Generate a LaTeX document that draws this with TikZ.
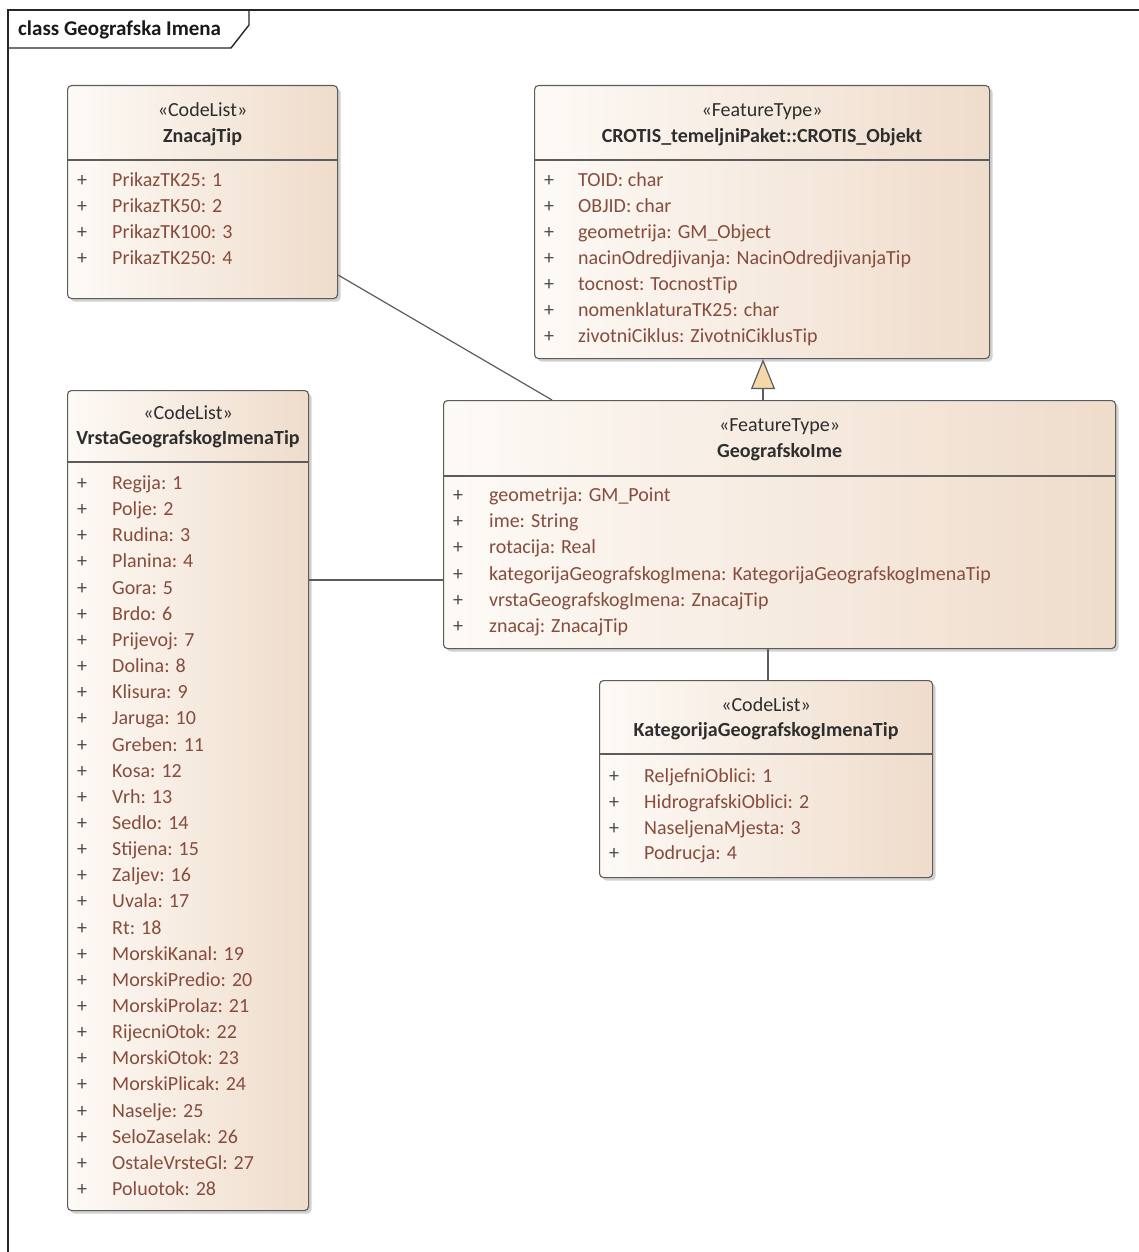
\documentclass[tikz,border=0pt]{standalone}
\usepackage{fontspec}
\setmainfont{Carlito}
\usetikzlibrary{shadows,arrows.meta,calc}
\definecolor{bord}{HTML}{5C5C5C}
\definecolor{boxL}{HTML}{FDFAF6}
\definecolor{boxR}{HTML}{EFDCCB}
\definecolor{attrc}{HTML}{874C3C}
\definecolor{txtc}{HTML}{2E2E2E}
\definecolor{trif}{HTML}{F6D8A8}
\begin{document}
\begin{tikzpicture}[x=1pt,y=-1pt,
  every node/.style={font=\fontsize{20}{24}\selectfont, inner sep=0pt, text height=13pt, text depth=0pt},
  cls/.style={draw=bord, line width=1.1pt, rounded corners=4pt, left color=boxL, right color=boxR,
    drop shadow={shadow xshift=3pt, shadow yshift=-3pt, fill=black!40, opacity=0.45},
    anchor=north west, text height=, text depth=},
  stereo/.style={text=txtc},
  cname/.style={text=txtc, font=\fontsize{20}{24}\selectfont\bfseries},
  sepl/.style={draw=bord, line width=1.1pt},
  plus/.style={text=txtc!85},
  attr/.style={text=attrc, anchor=west},
  conn/.style={draw=bord, line width=1.2pt},
  framel/.style={draw=black!85, line width=1.4pt}
]
\useasboundingbox (0,0) rectangle (1139,1252);
% frame
\draw[framel] (8,1260) -- (8,10) -- (1145,10);
\draw[framel] (8,48) -- (231,48) -- (249,25) -- (249,10);
\node[anchor=west, text=black!90, font=\fontsize{21}{25}\selectfont\bfseries] (title) at (18,29) {class Geografska Imena};

% ZnacajTip
\node[cls, minimum width=270pt, minimum height=213pt] (zn) at (67,85) {};
\node[stereo] (zn-st) at ([yshift=-25pt]zn.north) {«CodeList»};
\node[cname] (zn-nm) at ([yshift=-51pt]zn.north) {ZnacajTip};
\draw[sepl] ([yshift=-75pt]zn.north west) -- ([yshift=-75pt]zn.north east);
\foreach \t [count=\i from 0] in {PrikazTK25: 1, PrikazTK50: 2, PrikazTK100: 3, PrikazTK250: 4} {
  \node[plus] (zn-p\i) at ([xshift=15pt,yshift={-95pt-26pt*\i}]zn.north west) {+};
  \node[attr] (zn-a\i) at ([xshift=45pt,yshift={-95pt-26pt*\i}]zn.north west) {\t};
}

% CROTIS_Objekt
\node[cls, minimum width=455pt, minimum height=273pt] (cr) at (534,85) {};
\node[stereo] (cr-st) at ([yshift=-25pt]cr.north) {«FeatureType»};
\node[cname] (cr-nm) at ([yshift=-51pt]cr.north) {CROTIS\_temeljniPaket::CROTIS\_Objekt};
\draw[sepl] ([yshift=-75pt]cr.north west) -- ([yshift=-75pt]cr.north east);
\foreach \t [count=\i from 0] in {TOID: char, OBJID: char, geometrija: GM\_Object, nacinOdredjivanja: NacinOdredjivanjaTip, tocnost: TocnostTip, nomenklaturaTK25: char, zivotniCiklus: ZivotniCiklusTip} {
  \node[plus] (cr-p\i) at ([xshift=15pt,yshift={-95pt-26pt*\i}]cr.north west) {+};
  \node[attr] (cr-a\i) at ([xshift=44pt,yshift={-95pt-26pt*\i}]cr.north west) {\t};
}

% VrstaGeografskogImenaTip
\node[cls, minimum width=241pt, minimum height=820pt] (vr) at (67,390) {};
\node[stereo] (vr-st) at ([yshift=-23pt]vr.north) {«CodeList»};
\node[cname] (vr-nm) at ([yshift=-48pt]vr.north) {VrstaGeografskogImenaTip};
\draw[sepl] ([yshift=-72pt]vr.north west) -- ([yshift=-72pt]vr.north east);
\foreach \t [count=\i from 0] in {Regija: 1, Polje: 2, Rudina: 3, Planina: 4, Gora: 5, Brdo: 6, Prijevoj: 7, Dolina: 8, Klisura: 9, Jaruga: 10, Greben: 11, Kosa: 12, Vrh: 13, Sedlo: 14, Stijena: 15, Zaljev: 16, Uvala: 17, Rt: 18, MorskiKanal: 19, MorskiPredio: 20, MorskiProlaz: 21, RijecniOtok: 22, MorskiOtok: 23, MorskiPlicak: 24, Naselje: 25, SeloZaselak: 26, OstaleVrsteGl: 27, Poluotok: 28} {
  \node[plus] (vr-p\i) at ([xshift=15pt,yshift={-93pt-26.15pt*\i}]vr.north west) {+};
  \node[attr] (vr-a\i) at ([xshift=45pt,yshift={-93pt-26.15pt*\i}]vr.north west) {\t};
}

% GeografskoIme
\node[cls, minimum width=672pt, minimum height=248pt] (ge) at (443,400) {};
\node[stereo] (ge-st) at ([yshift=-25pt]ge.north) {«FeatureType»};
\node[cname] (ge-nm) at ([yshift=-51pt]ge.north) {GeografskoIme};
\draw[sepl] ([yshift=-76pt]ge.north west) -- ([yshift=-76pt]ge.north east);
\foreach \t [count=\i from 0] in {geometrija: GM\_Point, ime: String, rotacija: Real, kategorijaGeografskogImena: KategorijaGeografskogImenaTip, vrstaGeografskogImena: ZnacajTip, znacaj: ZnacajTip} {
  \node[plus] (ge-p\i) at ([xshift=15pt,yshift={-95pt-26.2pt*\i}]ge.north west) {+};
  \node[attr] (ge-a\i) at ([xshift=46pt,yshift={-95pt-26.2pt*\i}]ge.north west) {\t};
}

% KategorijaGeografskogImenaTip
\node[cls, minimum width=333pt, minimum height=197pt] (ka) at (599,680) {};
\node[stereo] (ka-st) at ([yshift=-25pt]ka.north) {«CodeList»};
\node[cname] (ka-nm) at ([yshift=-50pt]ka.north) {KategorijaGeografskogImenaTip};
\draw[sepl] ([yshift=-74pt]ka.north west) -- ([yshift=-74pt]ka.north east);
\foreach \t [count=\i from 0] in {ReljefniOblici: 1, HidrografskiOblici: 2, NaseljenaMjesta: 3, Podrucja: 4} {
  \node[plus] (ka-p\i) at ([xshift=15pt,yshift={-96pt-25.8pt*\i}]ka.north west) {+};
  \node[attr] (ka-a\i) at ([xshift=45pt,yshift={-96pt-25.8pt*\i}]ka.north west) {\t};
}

% connectors
\coordinate (c1) at ([yshift=-190pt]zn.north east);
\coordinate (c2) at ([xshift=109pt]ge.north west);
\draw[conn] (c1) -- (c2);
\coordinate (g1) at ([xshift=320pt]ge.north west);
\draw[conn, -{Triangle[fill=trif, length=30pt, width=24pt]}] (g1) -- (g1 |- cr.south);
\coordinate (v1) at ([yshift=-190pt]vr.north east);
\draw[conn] (v1) -- (v1 -| ge.west);
\coordinate (k1) at ([xshift=169pt]ka.north west);
\draw[conn] (k1) -- (k1 |- ge.south);
\end{tikzpicture}
\end{document}
